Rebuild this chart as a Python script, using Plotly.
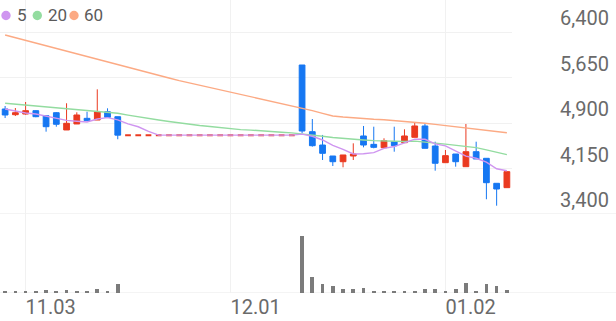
import plotly.graph_objects as go

# ---------------- data ----------------
day = list(range(50))
tick_days = [2, 22, 43]
tick_labels = ["11.03", "12.01", "01.02"]

open_ = [5131, 5037, 5048, 5103, 5020, 5070, 4785, 4884, 4977, 4949, 5086, 5004,
         4700, 4700, 4700, 4700, 4700, 4700, 4700, 4700, 4700, 4700, 4700, 4700, 4700, 4700, 4700, 4700, 4700,
         5856, 4757, 4537, 4356, 4262, 4356, 4686, 4548, 4493, 4592, 4576, 4664, 4851, 4521, 4246, 4389,
         4180, 4427, 4318, 3906, 3834]
high = [5180, 5147, 5246, 5110, 5020, 5080, 5225, 5076, 5086, 5455, 5142, 5004,
        4700, 4700, 4700, 4700, 4700, 4700, 4700, 4700, 4700, 4700, 4700, 4700, 4700, 4700, 4700, 4700, 4700,
        5856, 4966, 4703, 4356, 4373, 4565, 4851, 4839, 4648, 4839, 4796, 4905, 4884, 4592, 4455, 4389,
        4884, 4592, 4318, 3906, 4098]
low = [4982, 5015, 5037, 4995, 4757, 4839, 4785, 4884, 4938, 4949, 4994, 4632,
       4700, 4700, 4700, 4700, 4700, 4700, 4700, 4700, 4700, 4700, 4700, 4700, 4700, 4700, 4700, 4700, 4700,
       4730, 4510, 4290, 4191, 4170, 4290, 4499, 4483, 4493, 4427, 4576, 4664, 4483, 4114, 4246, 4180,
       4180, 4307, 3643, 3537, 3834]
close = [5032, 5070, 5103, 5004, 4839, 4879, 4895, 5032, 4938, 5086, 4994, 4700,
         4700, 4700, 4700, 4700, 4700, 4700, 4700, 4700, 4700, 4700, 4700, 4700, 4700, 4700, 4700, 4700, 4700,
         4768, 4526, 4400, 4262, 4373, 4389, 4537, 4499, 4608, 4526, 4686, 4851, 4483, 4236, 4362, 4262,
         4427, 4307, 3916, 3812, 4098]
volume = [210000, 190000, 200000, 180000, 300000, 170000, 320000, 180000, 200000, 420000, 190000, 900000,
          0, 0, 0, 0, 0, 0, 0, 0, 0, 0, 0, 0, 0, 0, 0, 0, 0,
          5700000, 1600000, 900000, 720000, 450000, 450000, 500000, 170000, 160000, 170000, 160000, 180000,
          400000, 450000, 180000, 450000, 1000000, 250000, 900000, 700000, 350000]

ma5 = [5131, 5098, 5065, 5048, 5010, 4979, 4944, 4930, 4917, 4966, 4989, 4951, 4885, 4838, 4761,
       4700, 4700, 4700, 4700, 4700, 4700, 4700, 4700, 4700, 4700, 4700, 4700, 4700, 4700,
       4716, 4681, 4620, 4532, 4466, 4390, 4392, 4412, 4481, 4512, 4571, 4634, 4631, 4556, 4524, 4439,
       4354, 4319, 4255, 4145, 4112]
ma20 = [5225, 5210, 5195, 5180, 5165, 5150, 5135, 5120, 5105, 5095, 5086, 5060, 5030, 5000, 4975,
        4950, 4925, 4900, 4880, 4860, 4843, 4825, 4805, 4790, 4783, 4775, 4765, 4748, 4737, 4721,
        4697, 4682, 4660, 4644, 4628, 4620, 4610, 4605, 4596, 4595, 4602, 4591, 4568, 4551, 4529,
        4515, 4495, 4456, 4411, 4378]
ma60 = [6351, 6306, 6262, 6217, 6173, 6128, 6084, 6040, 5995, 5950, 5906, 5863, 5818, 5774, 5729,
        5686, 5642, 5599, 5562, 5525, 5487, 5449, 5413, 5375, 5337, 5299, 5263, 5225, 5187, 5148,
        5105, 5059, 5016, 4999, 4984, 4972, 4962, 4954, 4942, 4928, 4913, 4895, 4877, 4859, 4841,
        4821, 4803, 4783, 4762, 4740]

price_ticks = [3400, 4150, 4900, 5650, 6400]
ma_names = ["5", "20", "60"]

# ---------------- style ----------------
W, H = 616, 321
PLOT_R = 512
RED = "#ea3a20"
BLUE = "#1677f2"
GREY = "#7b7b7b"
MA_COLORS = ["#cf95f0", "#93dca0", "#fcaa84"]
GRID = "#f1f1f1"
SEP = "#e9e9e9"
TXT = "#6a6a6a"
FONT = "Roboto"

price_bottom_px = 214
vol_base_px = 293
px_per_price = 45.5 / 750.0
price_top = price_ticks[0] + price_bottom_px / px_per_price
vol_px_per_unit = 1 / 100000.0
vol_top = (vol_base_px - price_bottom_px) / vol_px_per_unit

fig = go.Figure()

for ma, col in zip([ma60, ma20, ma5], MA_COLORS[::-1]):
    fig.add_trace(go.Scatter(x=day, y=ma, mode="lines", line=dict(color=col, width=1.4),
                             xaxis="x", yaxis="y", hoverinfo="skip", showlegend=False))

trading = [i for i in day if volume[i] > 0]
halted = [i for i in day if volume[i] == 0]

def pick(arr, idx):
    return [arr[i] for i in idx]

fig.add_trace(go.Candlestick(
    x=pick(day, trading), open=pick(open_, trading), high=pick(high, trading),
    low=pick(low, trading), close=pick(close, trading),
    increasing=dict(line=dict(color=RED, width=1), fillcolor=RED),
    decreasing=dict(line=dict(color=BLUE, width=1), fillcolor=BLUE),
    whiskerwidth=0, xaxis="x", yaxis="y", showlegend=False, hoverinfo="skip"))
fig.add_trace(go.Candlestick(
    x=pick(day, halted), open=pick(open_, halted), high=pick(high, halted),
    low=pick(low, halted), close=pick(close, halted),
    increasing=dict(line=dict(color=RED, width=2), fillcolor=RED),
    decreasing=dict(line=dict(color=RED, width=2), fillcolor=RED),
    whiskerwidth=0, xaxis="x", yaxis="y", showlegend=False, hoverinfo="skip"))

fig.add_trace(go.Bar(x=day, y=volume, marker=dict(color=GREY, line=dict(width=0)), width=0.36,
                     xaxis="x2", yaxis="y2", showlegend=False, hoverinfo="skip"))

xdom = [0, PLOT_R / W]
common_x = dict(range=[-0.5, 49.5], domain=xdom, tickmode="array", tickvals=tick_days,
                showgrid=True, gridcolor=GRID, gridwidth=1, zeroline=False, showline=False,
                rangeslider=dict(visible=False), fixedrange=True)

fig.update_layout(
    width=W, height=H, margin=dict(l=0, r=0, t=0, b=0),
    paper_bgcolor="white", plot_bgcolor="white",
    boxgap=0.2, boxgroupgap=0.3,
    xaxis=dict(**common_x, anchor="y", showticklabels=False),
    xaxis2=dict(**common_x, anchor="y2", ticktext=tick_labels, showticklabels=True,
                ticklabelposition="outside right", ticks="",
                tickfont=dict(family=FONT, size=20, color=TXT)),
    yaxis=dict(domain=[(H - price_bottom_px) / H, 1], range=[price_ticks[0], price_top],
               side="right", anchor="x", tickmode="array", tickvals=price_ticks,
               tickformat=",d", showgrid=True, gridcolor=GRID, zeroline=False,
               ticks="", ticklabelposition="outside top", ticklabelstandoff=47,
               tickfont=dict(family=FONT, size=20, color=TXT), fixedrange=True),
    yaxis2=dict(domain=[(H - vol_base_px) / H, (H - price_bottom_px) / H], range=[0, vol_top],
                anchor="x2", showticklabels=False, showgrid=False, zeroline=False, fixedrange=True),
    bargap=0,
)

# separators (full width)
for yv, yr in [(price_ticks[0], "y"), (0, "y2")]:
    fig.add_shape(type="line", xref="paper", yref=yr, x0=0, x1=1, y0=yv, y1=yv,
                  line=dict(color=SEP, width=1), layer="below")

# legend
leg_circ_x = [6, 37.3, 74]
leg_text_x = [15, 45.5, 82]
leg_y = 15.5
r = 4.7
for cx, tx, col, name in zip(leg_circ_x, leg_text_x, MA_COLORS, ma_names):
    fig.add_shape(type="circle", xref="paper", yref="paper",
                  x0=(cx - r) / W, x1=(cx + r) / W, y0=1 - (leg_y + r) / H, y1=1 - (leg_y - r) / H,
                  fillcolor=col, line=dict(width=0))
    fig.add_annotation(xref="paper", yref="paper", x=tx / W, y=1 - leg_y / H, text=name,
                       showarrow=False, xanchor="left", yanchor="middle",
                       font=dict(family=FONT, size=17, color="#5a5a5a"))

fig.write_html("out.html")
